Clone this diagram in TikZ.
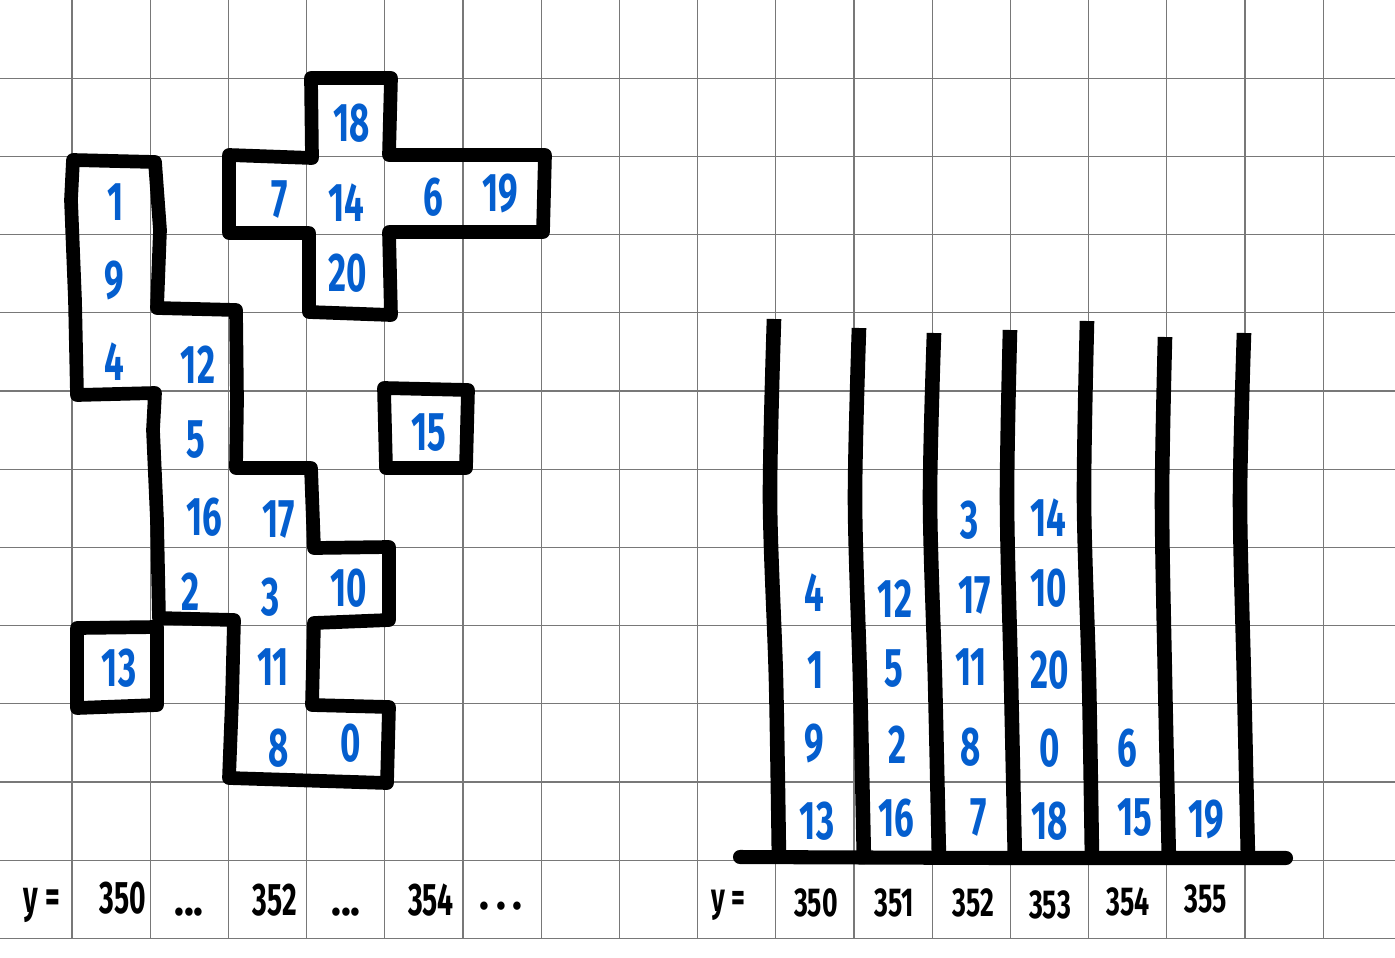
\documentclass[tikz,border=0pt]{standalone}
\usepackage{graphicx}
\usepackage{fontspec}
\setmainfont{Fira Sans}
\definecolor{ink}{RGB}{4,94,206}
\definecolor{gridgray}{RGB}{120,120,120}
\newcommand\nm[1]{\scalebox{0.64}[1]{\bfseries #1}}
\newcommand\lb[1]{\scalebox{0.62}[1]{\bfseries #1}}
\newcommand\lbs[1]{\scalebox{0.66}[1]{\bfseries #1}}
\tikzset{
  gridline/.style={draw=gridgray, line width=0.6pt},
  wall/.style={draw=black, line width=7.8pt, line join=round, line cap=round},
  bar/.style={draw=black, line width=8.3pt, line cap=butt},
  floor/.style={draw=black, line width=8pt, line cap=round},
  num/.style={text=ink, font=\fontsize{31}{31}\selectfont, inner sep=0pt},
  lab/.style={text=black, font=\fontsize{26}{26}\selectfont, inner sep=0pt},
  labs/.style={text=black, font=\fontsize{23}{23}\selectfont, inner sep=0pt},
}
\begin{document}
\begin{tikzpicture}[x=0.02cm, y=-0.02cm]
\useasboundingbox (0,0) rectangle (1395,957);
\fill[white] (0,0) rectangle (1395,957);
% grid
\foreach \i in {0,...,16} \draw[gridline] ({72+78.2*\i},0) -- ({72+78.2*\i},938.4);
\foreach \j in {1,...,12} \draw[gridline] (0,{78.2*\j}) -- (1395,{78.2*\j});

% ---------- left: pieces ----------
% big piece
\draw[wall] (73,160) -- (155,162) -- (160,230) -- (157,308) -- (236,310) -- (237,400) -- (236,468)
  -- (311,468) -- (314,548) -- (389,547) -- (389,620) -- (314,623) -- (312,705) -- (389,707)
  -- (387,783) -- (229,778) -- (232,700) -- (234,620) -- (159,618) -- (157,520) -- (153,430)
  -- (155,393) -- (77,395) -- (75,300) -- (71,200) -- cycle;
% single 13
\draw[wall] (77,628) -- (157,627) -- (157,705) -- (77,708) -- cycle;
% single 15
\draw[wall] (384,388) -- (468,390) -- (466,468) -- (386,468) -- cycle;
% cross
\draw[wall] (311,78) -- (391,78) -- (389,155) -- (545,155) -- (543,232) -- (389,232) -- (391,315)
  -- (309,312) -- (309,233) -- (229,233) -- (229,155) -- (312,158) -- cycle;

% left numbers
\node[num] (a18) at (352,123) {\nm{18}};
\node[num] (a7)  at (280,200) {\nm{7}};
\node[num] (a14) at (346,203) {\nm{14}};
\node[num] (a6)  at (433,197) {\nm{6}};
\node[num] (a19) at (500,193) {\nm{19}};
\node[num] (a1)  at (116,202) {\nm{1}};
\node[num] (a9)  at (114,280) {\nm{9}};
\node[num] (a20) at (348,273) {\nm{20}};
\node[num] (a4)  at (114,362) {\nm{4}};
\node[num] (a12) at (198,365) {\nm{12}};
\node[num] (a5)  at (196,440) {\nm{5}};
\node[num] (a15) at (429,433) {\nm{15}};
\node[num] (a16) at (204,517) {\nm{16}};
\node[num] (a17) at (279,520) {\nm{17}};
\node[num] (a2)  at (191,592) {\nm{2}};
\node[num] (a3)  at (271,597) {\nm{3}};
\node[num] (a10) at (349,588) {\nm{10}};
\node[num] (a13) at (119,668) {\nm{13}};
\node[num] (a11) at (273,667) {\nm{11}};
\node[num] (a8)  at (279,748) {\nm{8}};
\node[num] (a0)  at (351,743) {\nm{0}};

% left axis labels
\node[lab] (ly)  at (42,905) {\lb{y =}};
\node[lab] (l350) at (123,898) {\lb{350}};
\node[lab] (ld1) at (189,912) {\scalebox{0.9}[1]{\bfseries ...}};
\node[lab] (l352) at (275,900) {\lb{352}};
\node[lab] (ld2) at (346,912) {\scalebox{0.9}[1]{\bfseries ...}};
\node[lab] (l354) at (431,900) {\lb{354}};
\node[lab] (ld3) at (501,906) {\scalebox{0.9}[1]{\bfseries .\,.\,.}};

% ---------- right: columns ----------
\draw[bar] plot[smooth] coordinates {(774,319) (770,500) (776,680) (779,862)};
\draw[bar] plot[smooth] coordinates {(859,328) (855,500) (860,680) (864,864)};
\draw[bar] plot[smooth] coordinates {(934,333) (930,500) (935,680) (939,860)};
\draw[bar] plot[smooth] coordinates {(1010,330) (1007,500) (1011,680) (1015,864)};
\draw[bar] plot[smooth] coordinates {(1087,321) (1084,500) (1089,680) (1092,860)};
\draw[bar] plot[smooth] coordinates {(1165,337) (1162,500) (1165,680) (1169,864)};
\draw[bar] plot[smooth] coordinates {(1244,333) (1240,500) (1244,680) (1248,860)};
\draw[floor] (740,857) -- (1000,858) -- (1286,858);

% right numbers
\node[num] (b3)  at (970,520) {\nm{3}};
\node[num] (b14) at (1048,518) {\nm{14}};
\node[num] (b4)  at (814,593) {\nm{4}};
\node[num] (b12) at (895,599) {\nm{12}};
\node[num] (b17) at (975,596) {\nm{17}};
\node[num] (b10) at (1049,588) {\nm{10}};
\node[num] (b1)  at (816,670) {\nm{1}};
\node[num] (b5)  at (894,669) {\nm{5}};
\node[num] (b11) at (971,667) {\nm{11}};
\node[num] (b20) at (1050,670) {\nm{20}};
\node[num] (b9)  at (814,743) {\nm{9}};
\node[num] (b2)  at (897,745) {\nm{2}};
\node[num] (b8)  at (971,747) {\nm{8}};
\node[num] (b0)  at (1050,748) {\nm{0}};
\node[num] (b6)  at (1127,748) {\nm{6}};
\node[num] (b13) at (817,821) {\nm{13}};
\node[num] (b16) at (896,818) {\nm{16}};
\node[num] (b7)  at (979,818) {\nm{7}};
\node[num] (b18) at (1050,821) {\nm{18}};
\node[num] (b15) at (1135,818) {\nm{15}};
\node[num] (b19) at (1206,819) {\nm{19}};

% right axis labels
\node[labs] (ry)  at (728,905) {\lbs{y =}};
\node[labs] (r350) at (816,903) {\lbs{350}};
\node[labs] (r351) at (894,903) {\lbs{351}};
\node[labs] (r352) at (973,903) {\lbs{352}};
\node[labs] (r353) at (1050,905) {\lbs{353}};
\node[labs] (r354) at (1128,902) {\lbs{354}};
\node[labs] (r355) at (1206,899) {\lbs{355}};
\end{tikzpicture}
\end{document}
